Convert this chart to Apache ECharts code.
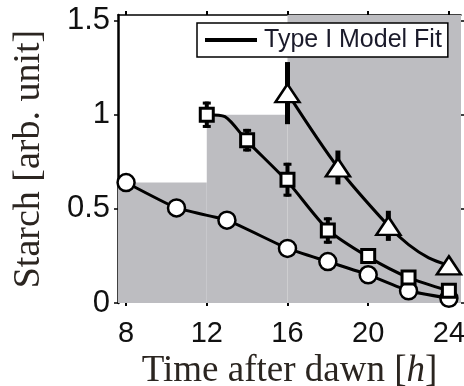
<!DOCTYPE html>
<html>
<head>
<meta charset="utf-8">
<script src="https://cdn.jsdelivr.net/npm/echarts@6/dist/echarts.min.js"></script>
<style>html,body{margin:0;padding:0;background:#fff;}#c{width:464px;height:386px;}</style>
</head>
<body>
<div id="c"></div>
<script>
// ---- data ----
var xTicks = [8, 12, 16, 20, 24];
var yTicks = [0, 0.5, 1, 1.5];
// light-period steps of the gray background: [xStart, xEnd, height]
var bgX0 = [7.6, 12, 16];
var bgX1 = [12, 16, 24.6];
var bgTop = [0.64, 1.0, 1.53];

var circleX = [8, 10.5, 13, 16, 18, 20, 22, 24];
var circleY = [0.64, 0.505, 0.44, 0.29, 0.22, 0.15, 0.065, 0.025];

var squareX = [12, 14, 16, 18, 20, 22, 24];
var squareY = [1.0, 0.865, 0.655, 0.385, 0.25, 0.135, 0.065];
var squareErr = [0.07, 0.06, 0.09, 0.07, 0.03, 0.03, 0.02];

var triX = [16, 18.5, 21, 24];
var triY = [1.115, 0.72, 0.41, 0.2];
var triErr = [0.165, 0.09, 0.08, 0.03];

var circleFitX = [8, 10.5, 13, 16, 18, 20, 22, 24];
var circleFitY = [0.64, 0.505, 0.44, 0.29, 0.22, 0.15, 0.065, 0.025];
var squareFitX = [12, 12.9, 14, 16, 18, 20, 22, 24];
var squareFitY = [1.0, 0.99, 0.86, 0.645, 0.39, 0.245, 0.135, 0.065];
var triFitX = [16, 18.5, 21, 22, 23, 24];
var triFitY = [1.115, 0.72, 0.41, 0.31, 0.24, 0.2];

function zip(a, b) { return a.map(function (v, i) { return [v, b[i]]; }); }
function zip3(a, b, c) { return a.map(function (v, i) { return [v, b[i], c[i]]; }); }

var gray = '#bdbdc1';
var sans = 'Liberation Sans, Arial, sans-serif';
var serif = 'Liberation Serif, Times New Roman, serif';

function errRender(capW, barW) {
  return function (params, api) {
    var x = api.value(0), y = api.value(1), e = api.value(2);
    var top = api.coord([x, y + e]);
    var bot = api.coord([x, y - e]);
    var children = [{
      type: 'line',
      shape: { x1: top[0], y1: top[1], x2: bot[0], y2: bot[1] },
      style: { stroke: '#000', lineWidth: barW }
    }];
    if (capW > 0) {
      children.push({ type: 'line', shape: { x1: top[0] - capW / 2, y1: top[1] + 1.5, x2: top[0] + capW / 2, y2: top[1] + 1.5 }, style: { stroke: '#000', lineWidth: 3 } });
      children.push({ type: 'line', shape: { x1: bot[0] - capW / 2, y1: bot[1] - 1.5, x2: bot[0] + capW / 2, y2: bot[1] - 1.5 }, style: { stroke: '#000', lineWidth: 3 } });
    }
    return { type: 'group', children: children };
  };
}

var bgAreas = bgX0.map(function (x0, i) {
  return [{ coord: [x0, 0] }, { coord: [bgX1[i], bgTop[i]] }];
});

var chart = echarts.init(document.getElementById('c'), null, { renderer: 'canvas' });
chart.setOption({
  animation: false,
  backgroundColor: '#fff',
  grid: { left: 118, right: 3, top: 15, bottom: 83, containLabel: false, outerBoundsMode: 'none' },
  legend: {
    data: ['Type I Model Fit'],
    left: 197, top: 23,
    padding: [3, 6, 3, 8],
    backgroundColor: '#fff',
    borderColor: '#000', borderWidth: 1.5, borderRadius: 0,
    icon: 'rect', itemWidth: 52, itemHeight: 4,
    itemStyle: { color: '#000' },
    textStyle: { fontSize: 25, fontFamily: sans, color: '#1a1a2a', lineHeight: 28, padding: [0, 0, 0, 2] }
  },
  xAxis: [{
    type: 'value', min: 7.6, max: 24.6, position: 'bottom',
    axisLine: { show: false },
    axisTick: { show: true, inside: false, length: 3, lineStyle: { color: '#000', width: 2 }, customValues: xTicks },
    axisLabel: { fontSize: 29, fontFamily: sans, color: '#111', margin: 16, customValues: xTicks },
    splitLine: { show: false },
    name: 'Time after dawn [{i|h}]',
    nameLocation: 'middle', nameGap: 48,
    nameTextStyle: { fontSize: 37, fontFamily: serif, color: '#2b2520',
      rich: { i: { fontSize: 37, fontFamily: serif, fontStyle: 'italic', color: '#2b2520' } } }
  }, {
    type: 'value', min: 7.6, max: 24.6, position: 'top',
    axisLine: { show: true, onZero: false, lineStyle: { color: '#000', width: 1.5 } },
    axisTick: { show: true, inside: false, length: 4, lineStyle: { color: '#000', width: 2 }, customValues: xTicks },
    axisLabel: { show: false },
    splitLine: { show: false }
  }],
  yAxis: [{
    type: 'value', min: 0, max: 1.53, position: 'left',
    axisLine: { show: true, onZero: false, lineStyle: { color: '#000', width: 2.5 } },
    axisTick: { show: true, inside: false, length: 4, lineStyle: { color: '#000', width: 1.5 }, customValues: yTicks },
    axisLabel: { fontSize: 31, fontFamily: sans, color: '#111', margin: 8, customValues: yTicks },
    splitLine: { show: false },
    name: 'Starch [arb. unit]',
    nameLocation: 'middle', nameGap: 70, nameRotate: 90,
    nameTextStyle: { fontSize: 38, fontFamily: serif, color: '#2b2520' }
  }, {
    type: 'value', min: 0, max: 1.53, position: 'right',
    axisLine: { show: false },
    axisTick: { show: true, inside: false, length: 3, lineStyle: { color: '#000', width: 1.5 }, customValues: yTicks },
    axisLabel: { show: false },
    splitLine: { show: false }
  }],
  series: [
    {
      type: 'line', name: 'bg', data: [], silent: true, z: 0,
      markArea: { silent: true, itemStyle: { color: gray, borderWidth: 0 }, data: bgAreas }
    },
    { type: 'line', name: 'Type I Model Fit', color: '#000', data: zip(circleFitX, circleFitY), showSymbol: false, smooth: 0.15, lineStyle: { color: '#000', width: 3 }, z: 2 },
    { type: 'line', name: 'Type I Model Fit', color: '#000', data: zip(squareFitX, squareFitY), showSymbol: false, smooth: 0.25, lineStyle: { color: '#000', width: 3 }, z: 2 },
    { type: 'line', name: 'Type I Model Fit', color: '#000', data: zip(triFitX, triFitY), showSymbol: false, smooth: 0.3, lineStyle: { color: '#000', width: 3 }, z: 2 },
    { type: 'custom', name: 'errSq', data: zip3(squareX, squareY, squareErr), renderItem: errRender(8, 4), z: 3, silent: true },
    { type: 'custom', name: 'errTri', data: zip3(triX, triY, triErr), renderItem: errRender(0, 5), z: 3, silent: true },
    { type: 'scatter', name: 'circles', data: zip(circleX, circleY), symbol: 'circle', symbolSize: 17, itemStyle: { color: '#fff', borderColor: '#000', borderWidth: 2.5, opacity: 1 }, z: 4 },
    { type: 'scatter', name: 'squares', data: zip(squareX, squareY), symbol: 'rect', symbolSize: 13, itemStyle: { color: '#fff', borderColor: '#000', borderWidth: 3, opacity: 1 }, z: 4 },
    { type: 'scatter', name: 'triangles', data: zip(triX, triY), symbol: 'triangle', symbolSize: [24, 18], itemStyle: { color: '#fff', borderColor: '#000', borderWidth: 2.5, opacity: 1 }, z: 4 }
  ]
});
</script>
</body>
</html>
